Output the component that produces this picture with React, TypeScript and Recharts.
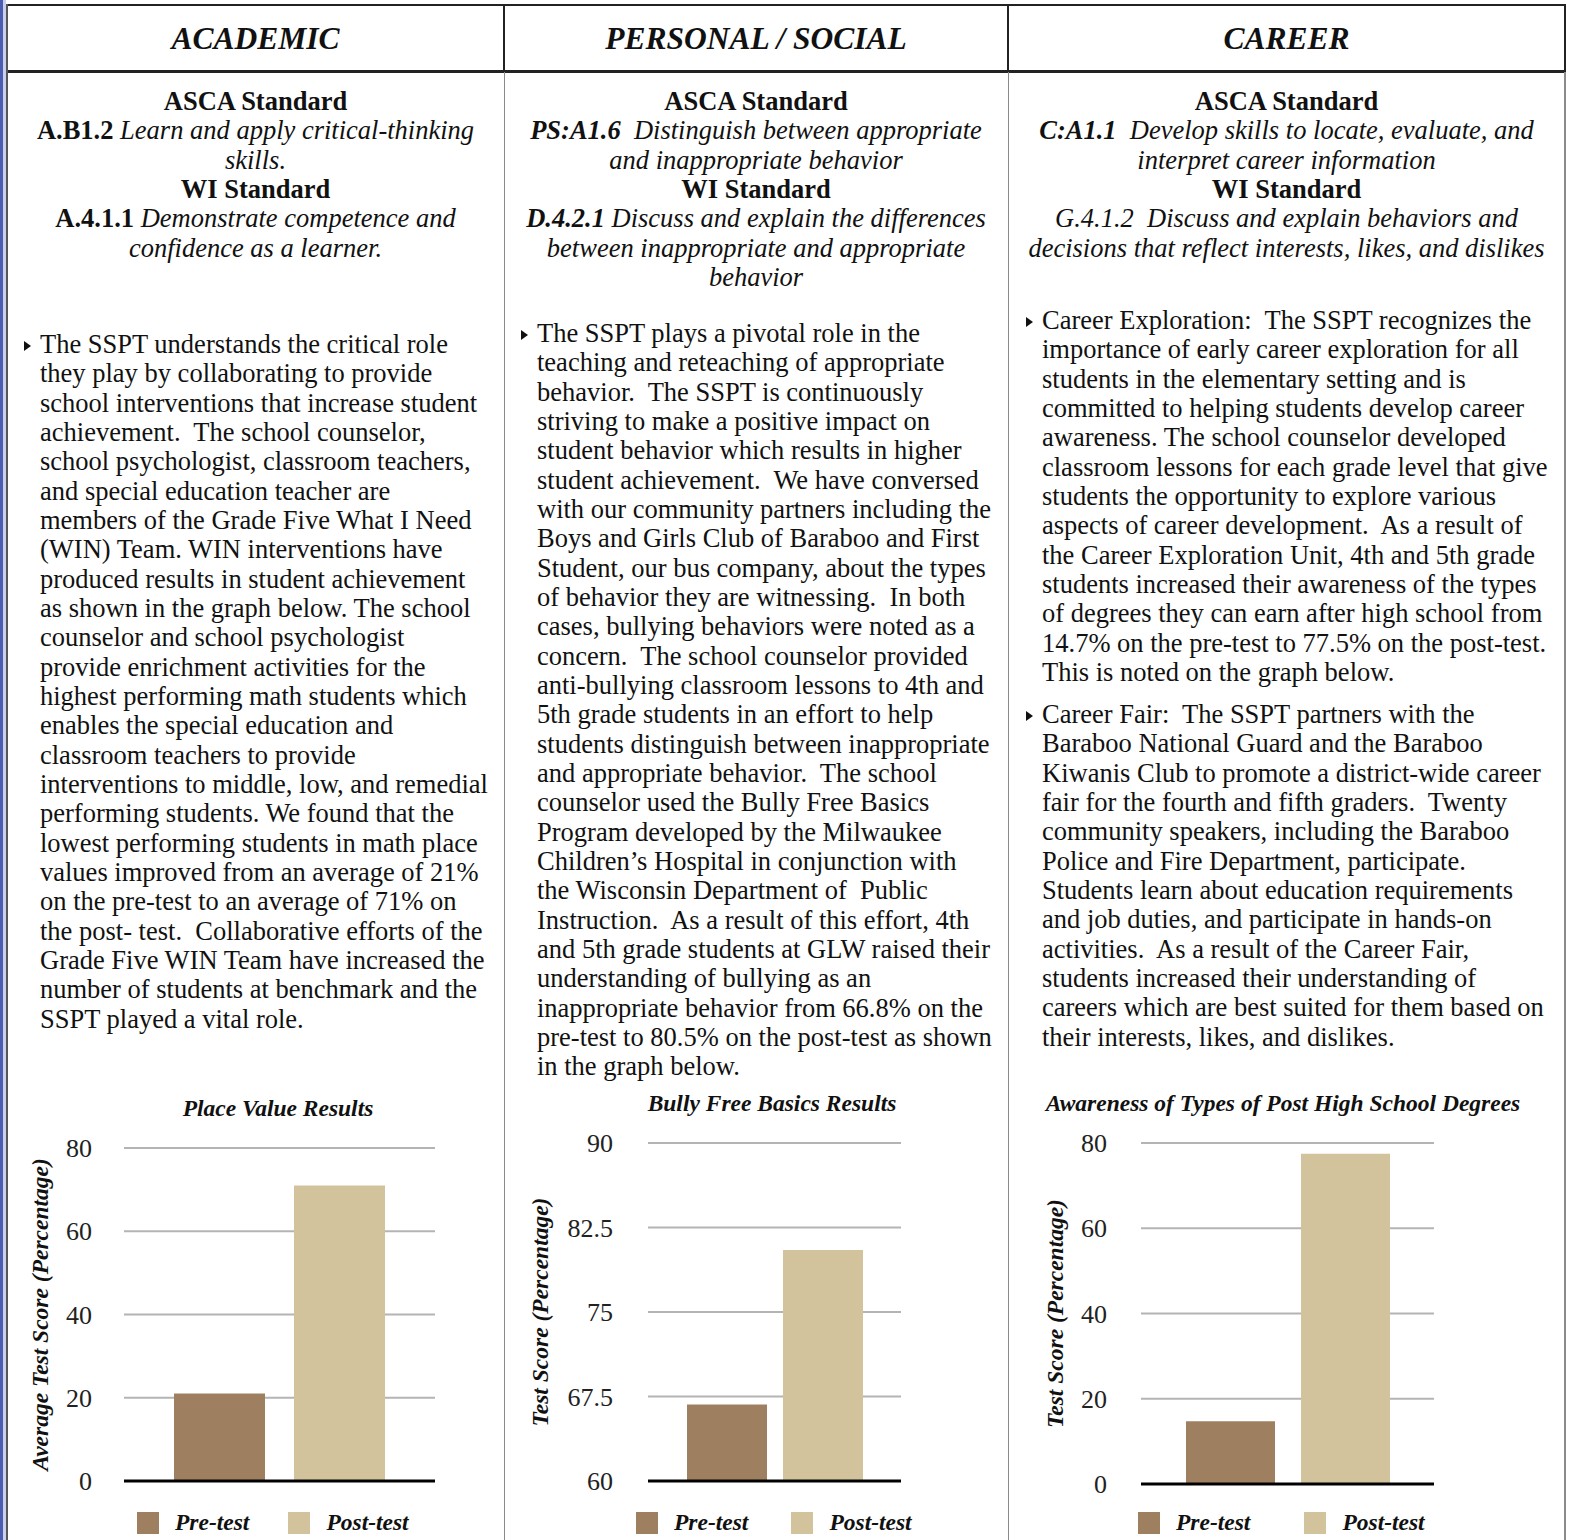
import React from 'react';
import {
  BarChart,
  Bar,
  XAxis,
  YAxis,
  CartesianGrid,
  ReferenceLine,
  Legend,
} from 'recharts';

const FONT = '"Liberation Serif", "Times New Roman", serif';
const PRE_COLOR = '#9e8061';
const POST_COLOR = '#d3c39d';

// chart data
const SERIES_NAMES = ['Pre-test', 'Post-test'];
const PLACE_VALUE_SCORES = [21, 71];
const BULLY_FREE_SCORES = [66.8, 80.5];
const DEGREE_SCORES = [14.7, 77.5];
const PLACE_VALUE_TICKS = [0, 20, 40, 60, 80];
const BULLY_FREE_TICKS = [60, 67.5, 75, 82.5, 90];
const DEGREE_TICKS = [0, 20, 40, 60, 80];

const COLUMN_TITLES = ['ACADEMIC', 'PERSONAL / SOCIAL', 'CAREER'];

type Seg = [string, string];

const ACADEMIC_STANDARDS: Seg[][] = [
  [['b', 'ASCA Standard']],
  [['b', 'A.B1.2'], ['i', ' Learn and apply critical-thinking']],
  [['i', 'skills.']],
  [['b', 'WI Standard']],
  [['b', 'A.4.1.1'], ['i', ' Demonstrate competence and']],
  [['i', 'confidence as a learner.']],
];

const PERSONAL_STANDARDS: Seg[][] = [
  [['b', 'ASCA Standard']],
  [['bi', 'PS:A1.6'], ['i', '  Distinguish between appropriate']],
  [['i', 'and inappropriate behavior']],
  [['b', 'WI Standard']],
  [['bi', 'D.4.2.1'], ['i', ' Discuss and explain the differences']],
  [['i', 'between inappropriate and appropriate']],
  [['i', 'behavior']],
];

const CAREER_STANDARDS: Seg[][] = [
  [['b', 'ASCA Standard']],
  [['bi', 'C:A1.1'], ['i', '  Develop skills to locate, evaluate, and']],
  [['i', 'interpret career information']],
  [['b', 'WI Standard']],
  [['i', 'G.4.1.2  Discuss and explain behaviors and']],
  [['i', 'decisions that reflect interests, likes, and dislikes']],
];

const ACADEMIC_TEXT = [
  'The SSPT understands the critical role',
  'they play by collaborating to provide',
  'school interventions that increase student',
  'achievement.  The school counselor,',
  'school psychologist, classroom teachers,',
  'and special education teacher are',
  'members of the Grade Five What I Need',
  '(WIN) Team. WIN interventions have',
  'produced results in student achievement',
  'as shown in the graph below. The school',
  'counselor and school psychologist',
  'provide enrichment activities for the',
  'highest performing math students which',
  'enables the special education and',
  'classroom teachers to provide',
  'interventions to middle, low, and remedial',
  'performing students. We found that the',
  'lowest performing students in math place',
  'values improved from an average of 21%',
  'on the pre-test to an average of 71% on',
  'the post- test.  Collaborative efforts of the',
  'Grade Five WIN Team have increased the',
  'number of students at benchmark and the',
  'SSPT played a vital role.',
];

const PERSONAL_TEXT = [
  'The SSPT plays a pivotal role in the',
  'teaching and reteaching of appropriate',
  'behavior.  The SSPT is continuously',
  'striving to make a positive impact on',
  'student behavior which results in higher',
  'student achievement.  We have conversed',
  'with our community partners including the',
  'Boys and Girls Club of Baraboo and First',
  'Student, our bus company, about the types',
  'of behavior they are witnessing.  In both',
  'cases, bullying behaviors were noted as a',
  'concern.  The school counselor provided',
  'anti-bullying classroom lessons to 4th and',
  '5th grade students in an effort to help',
  'students distinguish between inappropriate',
  'and appropriate behavior.  The school',
  'counselor used the Bully Free Basics',
  'Program developed by the Milwaukee',
  'Children\u2019s Hospital in conjunction with',
  'the Wisconsin Department of  Public',
  'Instruction.  As a result of this effort, 4th',
  'and 5th grade students at GLW raised their',
  'understanding of bullying as an',
  'inappropriate behavior from 66.8% on the',
  'pre-test to 80.5% on the post-test as shown',
  'in the graph below.',
];

const CAREER_TEXT_1 = [
  'Career Exploration:  The SSPT recognizes the',
  'importance of early career exploration for all',
  'students in the elementary setting and is',
  'committed to helping students develop career',
  'awareness. The school counselor developed',
  'classroom lessons for each grade level that give',
  'students the opportunity to explore various',
  'aspects of career development.  As a result of',
  'the Career Exploration Unit, 4th and 5th grade',
  'students increased their awareness of the types',
  'of degrees they can earn after high school from',
  '14.7% on the pre-test to 77.5% on the post-test.',
  'This is noted on the graph below.',
];

const CAREER_TEXT_2 = [
  'Career Fair:  The SSPT partners with the',
  'Baraboo National Guard and the Baraboo',
  'Kiwanis Club to promote a district-wide career',
  'fair for the fourth and fifth graders.  Twenty',
  'community speakers, including the Baraboo',
  'Police and Fire Department, participate.',
  'Students learn about education requirements',
  'and job duties, and participate in hands-on',
  'activities.  As a result of the Career Fair,',
  'students increased their understanding of',
  'careers which are best suited for them based on',
  'their interests, likes, and dislikes.',
];

const TEXT_SIZE = 26.5;
const LINE_H = 29.33;

function segStyle(kind: string): React.CSSProperties {
  return {
    fontWeight: kind.includes('b') ? 'bold' : 'normal',
    fontStyle: kind.includes('i') ? 'italic' : 'normal',
  };
}

function StandardsBlock({ lines, left, width, top }: { lines: Seg[][]; left: number; width: number; top: number }) {
  return (
    <div style={{ position: 'absolute', left, width, top, textAlign: 'center', fontSize: TEXT_SIZE, lineHeight: `${LINE_H}px` }}>
      {lines.map((line, i) => (
        <div key={i} style={{ whiteSpace: 'pre' }}>
          {line.map(([k, t], j) => (
            <span key={j} style={segStyle(k)}>{t}</span>
          ))}
        </div>
      ))}
    </div>
  );
}

function BulletBlock({ lines, left, top }: { lines: string[]; left: number; top: number }) {
  return (
    <div style={{ position: 'absolute', left, top, fontSize: TEXT_SIZE, lineHeight: `${LINE_H}px` }}>
      <div
        style={{
          position: 'absolute',
          left: -16,
          top: 11,
          width: 0,
          height: 0,
          borderTop: '5px solid transparent',
          borderBottom: '5px solid transparent',
          borderLeft: '7px solid #111',
        }}
      />
      {lines.map((l, i) => (
        <div key={i} style={{ whiteSpace: 'pre' }}>{l}</div>
      ))}
    </div>
  );
}

interface ChartCfg {
  title: string;
  titleCenter: number;
  titleTop: number;
  yLabel: string;
  values: number[];
  ticks: number[];
  left: number;
  width: number;
  margin: { top: number; right: number; left: number; bottom: number };
  axisWidth: number;
  tickMargin: number;
  labelDx: number;
  barSize: number;
  barGap: number;
  legendLeft: number;
  legendGap: number;
}

const CHART_TOP = 1085;
const CHART_H = 455;

function AxisTitle(props: any) {
  const { viewBox, value, dx } = props;
  const cx = viewBox.x + dx;
  const cy = viewBox.y + viewBox.height / 2;
  return (
    <text
      x={cx}
      y={cy}
      transform={`rotate(-90 ${cx} ${cy})`}
      textAnchor="middle"
      dominantBaseline="central"
      fontFamily={FONT}
      fontSize={23.5}
      fontWeight="bold"
      fontStyle="italic"
      fill="#111"
    >
      {value}
    </text>
  );
}

function ResultChart({ cfg }: { cfg: ChartCfg }) {
  const data = [{ name: 'result', pre: cfg.values[0], post: cfg.values[1] }];
  const lo = cfg.ticks[0];
  const hi = cfg.ticks[cfg.ticks.length - 1];
  return (
    <>
      <div
        style={{
          position: 'absolute',
          left: cfg.titleCenter - 300,
          width: 600,
          top: cfg.titleTop,
          textAlign: 'center',
          fontSize: 23.5,
          fontWeight: 'bold',
          fontStyle: 'italic',
          whiteSpace: 'nowrap',
        }}
      >
        {cfg.title}
      </div>
      <div style={{ position: 'absolute', left: cfg.left, top: CHART_TOP }}>
        <BarChart
          width={cfg.width}
          height={CHART_H}
          data={data}
          margin={cfg.margin}
          barSize={cfg.barSize}
          barGap={cfg.barGap}
        >
          <CartesianGrid vertical={false} stroke="#b4b4b4" strokeWidth={2} />
          <XAxis dataKey="name" hide />
          <YAxis
            domain={[lo, hi]}
            ticks={cfg.ticks}
            interval={0}
            width={cfg.axisWidth}
            axisLine={false}
            tickLine={false}
            tickMargin={cfg.tickMargin}
            tick={{ fontSize: 26, fill: '#222', fontFamily: FONT }}
            label={<AxisTitle value={cfg.yLabel} dx={cfg.labelDx} />}
          />
          <ReferenceLine y={lo} stroke="#000" strokeWidth={3} />
          <Legend
            layout="horizontal"
            align="center"
            verticalAlign="middle"
            wrapperStyle={{ left: cfg.legendLeft, top: 424, width: 'auto' }}
            content={({ payload }: any) => {
              const items = [...(payload || [])].sort(
                (a: any, b: any) => SERIES_NAMES.indexOf(a.value) - SERIES_NAMES.indexOf(b.value)
              );
              return (
                <div style={{ display: 'flex', alignItems: 'center' }}>
                  {items.map((p: any, i: number) => (
                    <div key={i} style={{ display: 'flex', alignItems: 'center', marginRight: cfg.legendGap }}>
                      <div style={{ width: 22, height: 22, background: p.color, marginRight: 16 }} />
                      <span style={{ fontFamily: FONT, fontSize: 23.5, fontWeight: 'bold', fontStyle: 'italic', color: '#111' }}>
                        {p.value}
                      </span>
                    </div>
                  ))}
                </div>
              );
            }}
          />
          <Bar dataKey="pre" name={SERIES_NAMES[0]} fill={PRE_COLOR} isAnimationActive={false} />
          <Bar dataKey="post" name={SERIES_NAMES[1]} fill={POST_COLOR} isAnimationActive={false} />
        </BarChart>
      </div>
    </>
  );
}

const CHARTS: ChartCfg[] = [
  {
    title: 'Place Value Results',
    titleCenter: 278,
    titleTop: 1095,
    yLabel: 'Average Test Score (Percentage)',
    values: PLACE_VALUE_SCORES,
    ticks: PLACE_VALUE_TICKS,
    left: 0,
    width: 500,
    margin: { top: 63, right: 65, left: 20, bottom: 59 },
    axisWidth: 104,
    tickMargin: 26,
    labelDx: 20,
    barSize: 91,
    barGap: 29,
    legendLeft: 137,
    legendGap: 39,
  },
  {
    title: 'Bully Free Basics Results',
    titleCenter: 772,
    titleTop: 1090,
    yLabel: 'Test Score (Percentage)',
    values: BULLY_FREE_SCORES,
    ticks: BULLY_FREE_TICKS,
    left: 505,
    width: 500,
    margin: { top: 58, right: 104, left: 20, bottom: 59 },
    axisWidth: 123,
    tickMargin: 29,
    labelDx: 15,
    barSize: 80,
    barGap: 16,
    legendLeft: 131,
    legendGap: 43,
  },
  {
    title: 'Awareness of Types of Post High School Degrees',
    titleCenter: 1283,
    titleTop: 1090,
    yLabel: 'Test Score (Percentage)',
    values: DEGREE_SCORES,
    ticks: DEGREE_TICKS,
    left: 1010,
    width: 555,
    margin: { top: 58, right: 131, left: 20, bottom: 56 },
    axisWidth: 111,
    tickMargin: 28,
    labelDx: 25,
    barSize: 89,
    barGap: 26,
    legendLeft: 128,
    legendGap: 54,
  },
];

const line = (s: React.CSSProperties) => <div style={{ position: 'absolute', ...s }} />;

export default function App() {
  return (
    <div
      style={{
        position: 'absolute',
        left: 0,
        top: 0,
        width: 1570,
        height: 1540,
        background: '#fff',
        overflow: 'hidden',
        fontFamily: FONT,
        color: '#111',
      }}
    >
      {/* left page edge */}
      {line({ left: 0, top: 0, width: 3, height: 1540, background: '#4a5db0' })}
      {line({ left: 3, top: 0, width: 3, height: 1540, background: '#c8d0ec' })}

      {/* table borders */}
      {line({ left: 6, top: 4, width: 1560, height: 2, background: '#222' })}
      {line({ left: 6, top: 70, width: 1560, height: 2.5, background: '#222' })}
      {line({ left: 6, top: 4, width: 2, height: 1536, background: '#555' })}
      {line({ left: 503, top: 4, width: 2, height: 68, background: '#222' })}
      {line({ left: 1007, top: 4, width: 2, height: 68, background: '#222' })}
      {line({ left: 1564, top: 4, width: 2, height: 68, background: '#222' })}
      {line({ left: 503.5, top: 72, width: 1.5, height: 1468, background: '#8a8a8a' })}
      {line({ left: 1007.5, top: 72, width: 1.5, height: 1468, background: '#8a8a8a' })}
      {line({ left: 1564, top: 72, width: 1.5, height: 1468, background: '#8a8a8a' })}

      {/* column headers */}
      {COLUMN_TITLES.map((t, i) => {
        const xs = [7, 504, 1008, 1565];
        return (
          <div
            key={t}
            style={{
              position: 'absolute',
              left: xs[i],
              width: xs[i + 1] - xs[i],
              top: 7,
              height: 64,
              display: 'flex',
              alignItems: 'center',
              justifyContent: 'center',
              fontSize: 31.5,
              fontWeight: 'bold',
              fontStyle: 'italic',
              whiteSpace: 'pre',
            }}
          >
            {t}
          </div>
        );
      })}

      <StandardsBlock lines={ACADEMIC_STANDARDS} left={7} width={497} top={87} />
      <StandardsBlock lines={PERSONAL_STANDARDS} left={504} width={504} top={87} />
      <StandardsBlock lines={CAREER_STANDARDS} left={1008} width={557} top={87} />

      <BulletBlock lines={ACADEMIC_TEXT} left={40} top={330} />
      <BulletBlock lines={PERSONAL_TEXT} left={537} top={319} />
      <BulletBlock lines={CAREER_TEXT_1} left={1042} top={306} />
      <BulletBlock lines={CAREER_TEXT_2} left={1042} top={700} />

      {CHARTS.map((c) => (
        <ResultChart key={c.title} cfg={c} />
      ))}
    </div>
  );
}
